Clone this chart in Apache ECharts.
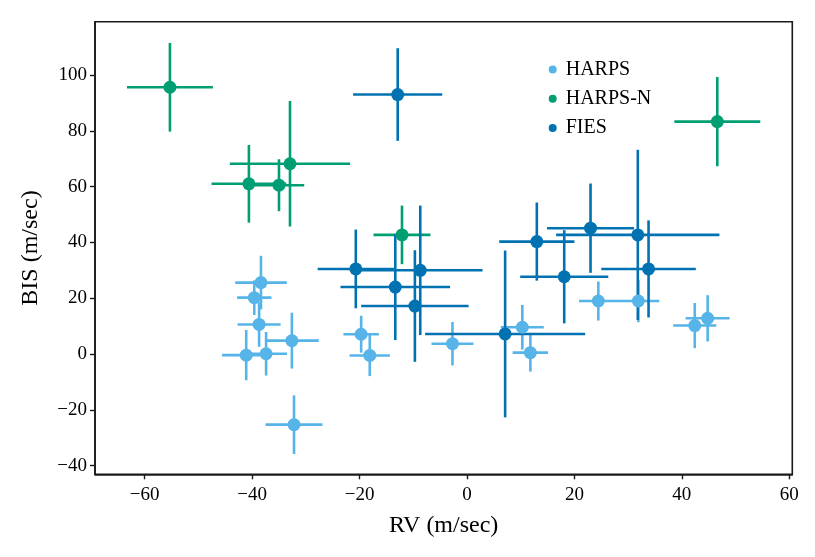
<!DOCTYPE html>
<html>
<head>
<meta charset="utf-8">
<script src="https://cdn.jsdelivr.net/npm/echarts@6/dist/echarts.min.js"></script>
<style>html,body{margin:0;padding:0;background:#fff;}#c{width:815px;height:557px;}</style>
</head>
<body>
<div id="c"></div>
<script>
// ---- data ----
const harpsRV     = [-41.1, -39.6, -38.7, -38.35, -37.4, -32.6, -32.2, -19.7, -18.1, -2.7, 10.3, 11.8, 24.45, 31.9, 42.4, 44.8];
const harpsBIS    = [-0.4, 20.2, 10.6, 25.6, 0.1, 4.8, -25.3, 7.1, -0.5, 3.7, 9.6, 0.5, 19.0, 19.0, 10.2, 12.8];
const harpsRVerr  = [4.5, 3.2, 4.0, 4.8, 3.9, 5.0, 5.3, 3.3, 3.75, 3.9, 4.0, 3.3, 3.6, 3.9, 4.0, 4.1];
const harpsBISerr = [9.0, 6.2, 8.0, 9.6, 7.8, 10.0, 10.5, 6.6, 7.4, 7.8, 8.0, 6.8, 7.0, 7.6, 8.1, 8.3];

const harpsnRV     = [-55.3, -40.6, -35.0, -32.95, -12.1, 46.6];
const harpsnBIS    = [95.6, 61.0, 60.5, 68.2, 42.7, 83.3];
const harpsnRVerr  = [8.0, 6.95, 4.7, 11.2, 5.3, 8.0];
const harpsnBISerr = [15.9, 13.9, 9.3, 22.5, 10.5, 16.0];

const fiesRV     = [-20.7, -13.35, -12.9, -9.7, -8.7, 7.1, 13.0, 18.1, 23.0, 31.8, 33.8];
const fiesBIS    = [30.5, 24.0, 93.0, 17.2, 30.0, 7.2, 40.3, 27.7, 45.1, 42.7, 30.5];
const fiesRVerr  = [7.1, 10.2, 8.3, 10.0, 11.6, 14.9, 7.0, 8.2, 8.1, 15.2, 8.8];
const fiesBISerr = [14.1, 19.0, 16.6, 20.0, 23.2, 29.9, 14.0, 16.7, 16.0, 30.5, 17.4];

const xTicks = [-60, -40, -20, 0, 20, 40, 60];
const yTicks = [-40, -20, 0, 20, 40, 60, 80, 100];
const seriesNames = ['HARPS', 'HARPS-N', 'FIES'];
// ---- end data ----

const colors = ['#56B4E9', '#009E73', '#0072B2'];
const FONT = '"Liberation Serif", "Times New Roman", serif';

function rows(xs, ys, xe, ye) { return xs.map((x, i) => [x, ys[i], xe[i], ye[i]]); }
const sets = [
  rows(harpsRV, harpsBIS, harpsRVerr, harpsBISerr),
  rows(harpsnRV, harpsnBIS, harpsnRVerr, harpsnBISerr),
  rows(fiesRV, fiesBIS, fiesRVerr, fiesBISerr)
];

function errRender(color) {
  return function (params, api) {
    const x = api.value(0), y = api.value(1), xe = api.value(2), ye = api.value(3);
    const l = api.coord([x - xe, y]), r = api.coord([x + xe, y]);
    const t = api.coord([x, y + ye]), b = api.coord([x, y - ye]);
    const st = { stroke: color, lineWidth: 2.6 };
    return { type: 'group', children: [
      { type: 'line', shape: { x1: l[0], y1: l[1], x2: r[0], y2: r[1] }, style: st },
      { type: 'line', shape: { x1: t[0], y1: t[1], x2: b[0], y2: b[1] }, style: st }
    ]};
  };
}

const series = [];
sets.forEach((d, i) => {
  series.push({
    type: 'custom', name: seriesNames[i] + ' err', data: d,
    encode: { x: 0, y: 1 }, renderItem: errRender(colors[i]),
    silent: true, animation: false
  });
  series.push({
    type: 'scatter', name: seriesNames[i], data: d.map(r => [r[0], r[1]]),
    symbol: 'circle', symbolSize: 13, itemStyle: { color: colors[i], opacity: 1 },
    emphasis: { disabled: true }, animation: false
  });
});

const minus = v => String(v).replace('-', '\u2212');

const chart = echarts.init(document.getElementById('c'), null, { renderer: 'canvas' });
chart.setOption({
  backgroundColor: '#fff',
  animation: false,
  grid: { left: 95, right: 22.7, top: 21.7, bottom: 82.7, show: true, borderColor: '#1a1a1a', borderWidth: 1.6, backgroundColor: 'transparent' },
  legend: {
    data: seriesNames, orient: 'vertical', left: 543.7, top: 54.5,
    icon: 'circle', itemWidth: 8, itemHeight: 8, itemGap: 9.3,
    textStyle: { fontFamily: FONT, fontSize: 20, color: '#000', lineHeight: 20, padding: [0, 0, 0, 4] },
    selectedMode: false
  },
  xAxis: {
    type: 'value', min: -69.25, max: 60.56,
    name: 'RV (m/sec)', nameLocation: 'middle', nameGap: 39,
    nameTextStyle: { fontFamily: FONT, fontSize: 24, color: '#000' },
    axisLine: { show: true, onZero: false, lineStyle: { color: '#1a1a1a', width: 1.6 } },
    axisTick: { show: true, length: 5, customValues: xTicks, lineStyle: { color: '#1a1a1a', width: 1.4 } },
    axisLabel: { customValues: xTicks, formatter: minus, fontFamily: FONT, fontSize: 19, color: '#000', margin: 11 },
    splitLine: { show: false }
  },
  yAxis: {
    type: 'value', min: -43.1, max: 119.1,
    name: 'BIS (m/sec)', nameLocation: 'middle', nameGap: 52,
    nameTextStyle: { fontFamily: FONT, fontSize: 24, color: '#000' },
    axisLine: { show: true, onZero: false, lineStyle: { color: '#1a1a1a', width: 1.6 } },
    axisTick: { show: true, length: 5, customValues: yTicks, lineStyle: { color: '#1a1a1a', width: 1.4 } },
    axisLabel: { customValues: yTicks, formatter: minus, fontFamily: FONT, fontSize: 19, color: '#000', margin: 8 },
    splitLine: { show: false }
  },
  series: series
});
</script>
</body>
</html>
